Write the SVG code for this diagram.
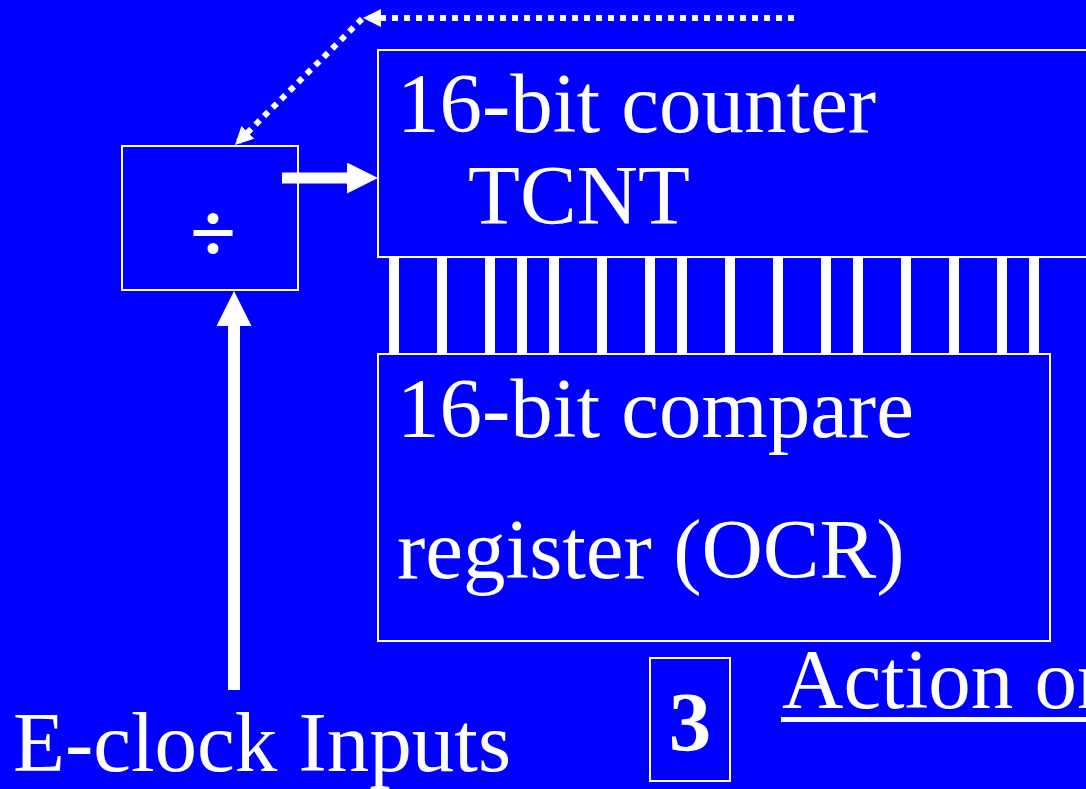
<svg xmlns="http://www.w3.org/2000/svg" width="1086" height="789" viewBox="0 0 1086 789">
  <defs>
    <style>
      .box { fill: #0000FF; stroke: #FFFFFF; stroke-width: 2; }
      .txt { fill: #FFFFFF; font-family: "Liberation Serif", "Times New Roman", serif; font-size: 85px; }
      .bar { fill: #FFFFFF; }
      .dot { fill: none; stroke: #FFFFFF; stroke-width: 6; stroke-dasharray: 6 6; }
      .thick { fill: none; stroke: #FFFFFF; }
    </style>
    <marker id="headDot" markerUnits="userSpaceOnUse" markerWidth="18" markerHeight="18" viewBox="0 0 18 18" refX="18" refY="9" orient="auto">
      <path d="M0,0 L18,9 L0,18 z" fill="#FFFFFF"/>
    </marker>
    <marker id="headMid" markerUnits="userSpaceOnUse" markerWidth="31" markerHeight="31" viewBox="0 0 31 31" refX="0" refY="15.5" orient="auto">
      <path d="M0,0 L31,15.5 L0,31 z" fill="#FFFFFF"/>
    </marker>
    <marker id="headBig" markerUnits="userSpaceOnUse" markerWidth="35" markerHeight="35" viewBox="0 0 35 35" refX="0" refY="17.5" orient="auto">
      <path d="M0,0 L35,17.5 L0,35 z" fill="#FFFFFF"/>
    </marker>
  </defs>
  <rect x="0" y="0" width="1086" height="789" fill="#0000FF"/>

  <g id="divider">
    <rect class="box" x="122" y="146" width="176" height="144"/>
    <text class="txt" x="213" y="262" text-anchor="middle" font-size="90" font-weight="bold" textLength="46" lengthAdjust="spacingAndGlyphs">÷</text>
  </g>

  <g id="tcnt">
    <rect class="box" x="378" y="50" width="720" height="207"/>
    <text class="txt" x="397" y="132">16-bit counter</text>
    <text class="txt" x="468" y="224">TCNT</text>
  </g>

  <g id="bus">
    <rect class="bar" x="389" y="257" width="10" height="97"/>
    <rect class="bar" x="437" y="257" width="10" height="97"/>
    <rect class="bar" x="485" y="257" width="10" height="97"/>
    <rect class="bar" x="517" y="257" width="10" height="97"/>
    <rect class="bar" x="549" y="257" width="10" height="97"/>
    <rect class="bar" x="597" y="257" width="10" height="97"/>
    <rect class="bar" x="645" y="257" width="10" height="97"/>
    <rect class="bar" x="677" y="257" width="10" height="97"/>
    <rect class="bar" x="725" y="257" width="10" height="97"/>
    <rect class="bar" x="773" y="257" width="10" height="97"/>
    <rect class="bar" x="821" y="257" width="10" height="97"/>
    <rect class="bar" x="853" y="257" width="10" height="97"/>
    <rect class="bar" x="901" y="257" width="10" height="97"/>
    <rect class="bar" x="949" y="257" width="10" height="97"/>
    <rect class="bar" x="997" y="257" width="10" height="97"/>
    <rect class="bar" x="1029" y="257" width="10" height="97"/>
  </g>

  <g id="ocr">
    <rect class="box" x="378" y="354" width="672" height="287"/>
    <text class="txt" x="397" y="437">16-bit compare</text>
    <text class="txt" x="397" y="578">register (OCR)</text>
  </g>

  <g id="step3">
    <rect class="box" x="650" y="658" width="80" height="123"/>
    <text class="txt" x="690" y="751" text-anchor="middle" font-weight="bold">3</text>
  </g>

  <g id="labels">
    <text class="txt" x="13" y="771">E-clock Inputs</text>
    <text class="txt" x="782" y="708">Action on</text>
    <rect x="781" y="717" width="320" height="5" fill="#FFFFFF"/>
  </g>

  <g id="connectors">
    <path class="dot" d="M794,18 L363,18" marker-end="url(#headDot)"/>
    <path class="dot" d="M362,19 L235,145" marker-end="url(#headDot)"/>
    <path class="thick" d="M282,178 L347,178" stroke-width="11" marker-end="url(#headMid)"/>
    <path class="thick" d="M234,690 L234,326" stroke-width="12" marker-end="url(#headBig)"/>
  </g>
</svg>
